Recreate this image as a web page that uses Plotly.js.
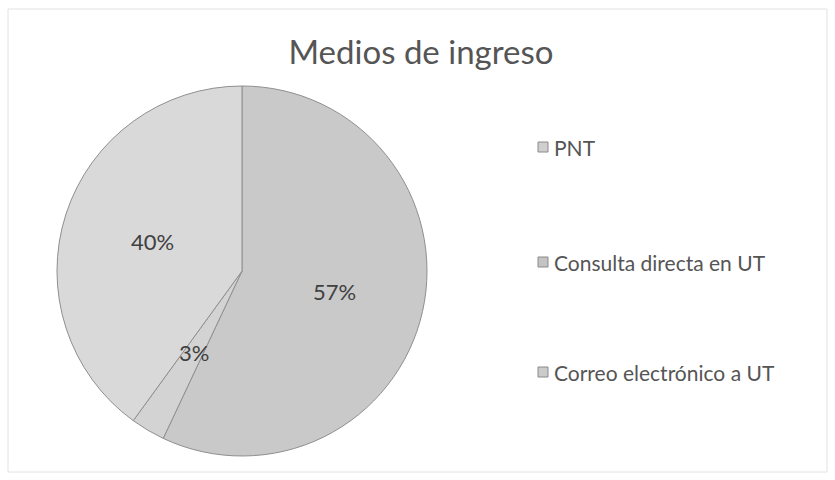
<!DOCTYPE html>
<html>
<head>
<meta charset="utf-8">
<script src="https://cdn.plot.ly/plotly-3.0.1.min.js"></script>
<style>html,body{margin:0;padding:0;background:#fff;}#chart{width:835px;height:480px;}</style>
</head>
<body>
<div id="chart"></div>
<script>
const labels = ["PNT", "Consulta directa en UT", "Correo electrónico a UT"];
const values = [57, 3, 40];
const sliceColors = ["#c9c9c9", "#d3d3d3", "#d9d9d9"];
const swatchColors = ["#cfcfcf", "#c4c4c4", "#cbcbcb"];

const W = 835, H = 480;
const pieLeft = 57, pieRight = 427, pieTop = 86, pieBottom = 456;
const cx = (pieLeft + pieRight) / 2, cy = (pieTop + pieBottom) / 2, R = (pieRight - pieLeft) / 2;
const fontFam = "Lato, 'Open Sans', sans-serif";
const textColor = "#555555";

const total = values.reduce((a, b) => a + b, 0);
const annotations = [];
let cum = 0;
values.forEach((v, i) => {
  const mid = (cum + v / 2) / total * 2 * Math.PI;
  cum += v;
  const rr = 0.51 * R;
  const px = cx + rr * Math.sin(mid);
  const py = cy - rr * Math.cos(mid);
  annotations.push({
    text: Math.round(v / total * 100) + "%",
    x: px / W, y: 1 - py / H, xref: "paper", yref: "paper",
    xanchor: "center", yanchor: "middle",
    showarrow: false, font: {family: fontFam, size: 22, color: "#404040"}
  });
});

const legendX = 538, legendTextX = 552, legendY = [147, 262, 372];
const shapes = [{
  type: "rect", xref: "paper", yref: "paper",
  x0: 8 / W, x1: 827 / W, y0: 1 - 472 / H, y1: 1 - 9 / H,
  line: {color: "#e2e2e2", width: 1}, fillcolor: "rgba(0,0,0,0)"
}];
labels.forEach((lab, i) => {
  const y = legendY[i];
  shapes.push({
    type: "rect", xref: "paper", yref: "paper",
    x0: legendX / W, x1: (legendX + 10) / W,
    y0: 1 - (y + 5) / H, y1: 1 - (y - 5) / H,
    line: {color: "#8a8a8a", width: 1}, fillcolor: swatchColors[i]
  });
  annotations.push({
    text: lab, x: legendTextX / W, y: 1 - y / H, xref: "paper", yref: "paper",
    xanchor: "left", yanchor: "middle", showarrow: false,
    font: {family: fontFam, size: 21, color: textColor}
  });
});

const data = [{
  type: "pie",
  labels: labels,
  values: values,
  sort: false,
  direction: "clockwise",
  rotation: 0,
  textinfo: "none",
  hoverinfo: "label+percent",
  marker: {colors: sliceColors, line: {color: "#8f8f8f", width: 1}},
  domain: {x: [pieLeft / W, pieRight / W], y: [1 - pieBottom / H, 1 - pieTop / H]},
  showlegend: false
}];

const layout = {
  width: W, height: H,
  margin: {l: 0, r: 0, t: 0, b: 0},
  paper_bgcolor: "#ffffff",
  title: {text: "Medios de ingreso", x: 421 / W, xanchor: "center", y: 1 - 52 / H, yanchor: "middle",
          font: {family: fontFam, size: 33, color: textColor}},
  showlegend: false,
  annotations: annotations,
  shapes: shapes
};

Plotly.newPlot("chart", data, layout, {displayModeBar: false, staticPlot: true});
</script>
</body>
</html>
